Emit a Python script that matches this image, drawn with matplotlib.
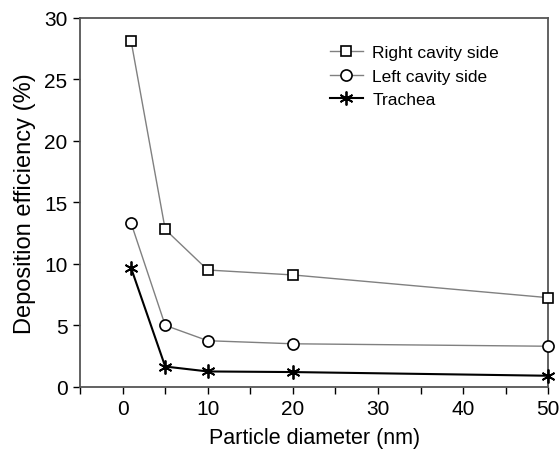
import matplotlib
matplotlib.use("Agg")
import matplotlib.pyplot as plt
from matplotlib.ticker import MultipleLocator

plt.rcParams['font.family'] = ['Liberation Sans', 'DejaVu Sans']

# particle diameters (nm)
diameters = [1, 5, 10, 20, 50]

# deposition efficiency (%)
right_cavity = [28.1, 12.8, 9.5, 9.1, 7.25]
left_cavity = [13.3, 5.0, 3.75, 3.5, 3.3]
trachea = [9.65, 1.65, 1.25, 1.2, 0.9]

fig = plt.figure(figsize=(5.6, 4.52), dpi=100)
ax = fig.add_axes([0.143, 0.142, 0.836, 0.816])

ax.plot(diameters, right_cavity, color='#808080', lw=1, marker='s', ms=7.5,
        mfc='white', mec='black', mew=1.2, label='Right cavity side', clip_on=False, zorder=3)
ax.plot(diameters, left_cavity, color='#808080', lw=1, marker='o', ms=8,
        mfc='white', mec='black', mew=1.2, label='Left cavity side', clip_on=False, zorder=3)
ax.plot(diameters, trachea, color='black', lw=1.5, marker=(6, 2, 0), ms=10,
        mec='black', mew=1.3, label='Trachea', clip_on=False, zorder=3)

ax.set_xlim(-5, 50)
ax.set_ylim(0, 30)
ax.xaxis.set_major_locator(MultipleLocator(10))
ax.xaxis.set_minor_locator(MultipleLocator(5))
ax.yaxis.set_major_locator(MultipleLocator(5))
ax.tick_params(which='both', direction='out', labelsize=15, length=5, width=1, pad=4)

for s in ax.spines.values():
    s.set_color('#555555')
    s.set_linewidth(1.3)

ax.set_xlabel('Particle diameter (nm)', fontsize=15.5, labelpad=6)
ax.set_ylabel('Deposition efficiency (%)', fontsize=17, labelpad=6)

ax.legend(loc='upper left', bbox_to_anchor=(0.50, 0.97), frameon=False,
          fontsize=12.5, handlelength=1.9, handletextpad=0.55, labelspacing=0.5)

fig.savefig('out.png', dpi=100)
